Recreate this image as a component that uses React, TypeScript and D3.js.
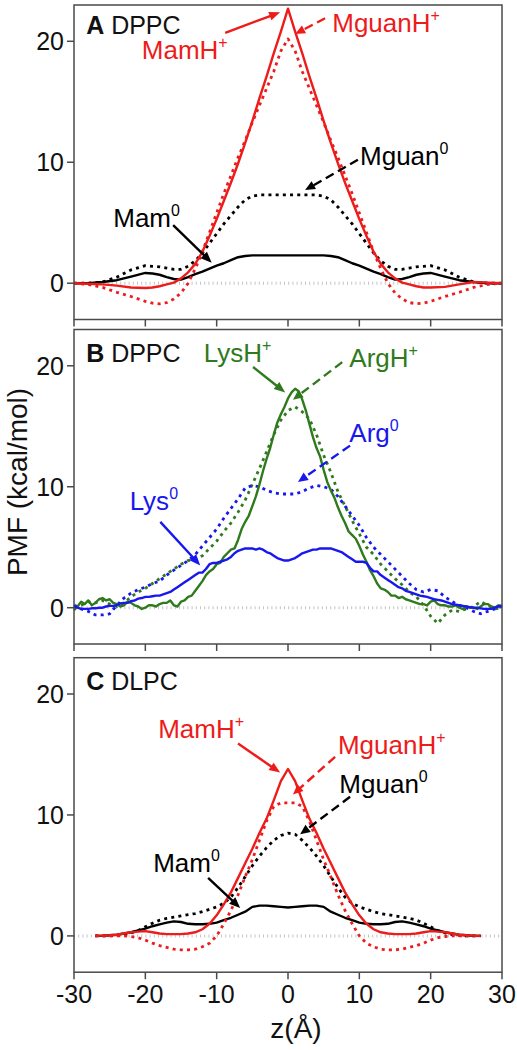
import React from "react";
import * as d3 from "d3";

const FONT = "'Liberation Sans', Arial, Helvetica, sans-serif";
const RED = "#ee1b1b";
const GREEN = "#2f7a1d";
const BLUE = "#1717ee";
const BLACK = "#000000";

// ---------------- Panel A (DPPC) ----------------
const zA = [-30, -28, -26, -24, -22, -20, -19, -18, -17, -16, -15, -14, -13, -12, -11, -10, -9, -8, -7, -6, -5, -4, -3, -2, -1, 0,
  1, 2, 3, 4, 5, 6, 7, 8, 9, 10, 11, 12, 13, 14, 15, 16, 17, 18, 19, 20, 22, 24, 26, 28, 30];
const A_MamH = [0, -0.05, -0.1, -0.2, -0.35, -0.4, -0.35, -0.25, -0.1, 0.05, 0.4, 0.9, 1.6, 2.6, 3.9, 5.3, 6.8, 8.3, 9.9, 11.6, 13.4, 15.3, 17.1, 19.0, 20.8, 22.7,
  20.8, 19.0, 17.1, 15.3, 13.4, 11.6, 9.9, 8.3, 6.8, 5.3, 3.9, 2.6, 1.6, 0.9, 0.4, 0.05, -0.1, -0.25, -0.35, -0.35, -0.3, -0.1, 0.1, 0.05, 0];
const A_MguanH = [0, -0.1, -0.35, -0.75, -1.1, -1.5, -1.65, -1.7, -1.6, -1.3, -0.8, 0.0, 1.2, 2.6, 4.2, 5.8, 7.4, 8.9, 10.4, 11.8, 13.3, 14.7, 16.1, 17.5, 19.2, 20.2,
  19.2, 17.5, 16.1, 14.7, 13.3, 11.8, 10.4, 8.9, 7.4, 5.8, 4.2, 2.6, 1.2, 0.0, -0.8, -1.3, -1.6, -1.7, -1.65, -1.5, -1.1, -0.75, -0.35, -0.1, 0];
const A_Mguan0 = [0, 0.0, 0.1, 0.5, 1.1, 1.45, 1.4, 1.35, 1.25, 1.15, 1.15, 1.4, 1.85, 2.5, 3.3, 4.1, 4.9, 5.6, 6.3, 6.9, 7.2, 7.3, 7.3, 7.3, 7.3, 7.3,
  7.3, 7.3, 7.3, 7.3, 7.2, 6.9, 6.3, 5.6, 4.9, 4.1, 3.3, 2.5, 1.85, 1.4, 1.15, 1.15, 1.25, 1.35, 1.4, 1.45, 1.1, 0.5, 0.1, 0.0, 0];
const A_Mam0 = [0, 0.0, 0.1, 0.25, 0.55, 0.85, 0.8, 0.7, 0.5, 0.35, 0.3, 0.5, 0.75, 0.95, 1.2, 1.45, 1.65, 1.9, 2.15, 2.25, 2.3, 2.3, 2.3, 2.3, 2.3, 2.3,
  2.3, 2.3, 2.3, 2.3, 2.3, 2.25, 2.15, 1.9, 1.65, 1.45, 1.2, 0.95, 0.75, 0.5, 0.3, 0.35, 0.5, 0.7, 0.8, 0.85, 0.55, 0.25, 0.1, 0.0, 0];

// ---------------- Panel B (DPPC, amino acids) ----------------
const zB = [-30, -29, -28, -27, -26, -25, -24, -23, -22, -21, -20, -19, -18, -17, -16, -15, -14, -13, -12, -11, -10, -9, -8, -7, -6, -5, -4, -3, -2, -1, 0,
  1, 2, 3, 4, 5, 6, 7, 8, 9, 10, 11, 12, 13, 14, 15, 16, 17, 18, 19, 20, 21, 22, 23, 24, 25, 26, 27, 28, 29, 30];
// half-Ångström grid for the noisy solid curves
const zBfine = d3.range(-30, 30.25, 0.5);
const B_LysH = [
  -0.2, 0.1, 0.5, 0.3, 0.6, 0.2, 0.4, 0.7, 0.8, 0.6,
  0.7, 0.4, 0.3, 0.1, 0.2, 0.5, 0.4, 0.2, 0.1, -0.1,
  0.0, 0.2, 0.2, 0.1, 0.3, 0.4, 0.4, 0.6, 0.2, 0.1,
  0.5, 0.6, 0.9, 1.0, 1.4, 1.8, 2.2, 2.7, 3.0, 3.2,
  3.6, 3.7, 4.2, 4.5, 4.8, 4.9, 5.6, 6.5, 7.1, 7.6,
  8.4, 9.2, 10.2, 11.3, 12.3, 13.2, 14.3, 15.3, 16.0, 16.6,
  17.3,
  17.8, 18.1, 17.9, 17.2, 16.3, 15.2, 14.1, 13.2, 12.5, 11.4,
  10.4, 9.7, 9.1, 8.3, 7.6, 7.0, 6.3, 6.0, 5.7, 5.1,
  4.4, 3.8, 3.1, 2.6, 2.0, 1.6, 1.5, 1.3, 1.0, 1.0,
  0.8, 0.9, 0.7, 0.6, 0.5, 0.4, 0.3, 0.3, 0.2, 0.5,
  0.6, 0.3, 0.2, 0.2, 0.1, 0.1, 0.2, 0.0, -0.1, 0.1,
  0.0, 0.0, -0.1, 0.1, 0.3, 0.3, 0.1, 0.0, 0.2, 0.1];
const B_Lys0 = [
  0.1, 0.0, -0.1, -0.1, -0.1, -0.05, -0.05, 0.0, 0.0, 0.1,
  0.15, 0.15, 0.2, 0.35, 0.4, 0.4, 0.55, 0.6, 0.75, 0.8,
  0.9, 0.9, 0.95, 1.0, 1.0, 1.1, 1.2, 1.3, 1.5, 1.7,
  1.9, 2.1, 2.3, 2.5, 2.7, 2.9, 2.9, 3.2, 3.6, 3.7,
  3.7, 3.8, 3.9, 4.0, 4.2, 4.5, 4.7, 4.8, 4.9, 4.9,
  4.9, 4.8, 4.9, 4.8, 4.6, 4.5, 4.3, 4.1, 4.0, 3.9,
  3.9,
  4.0, 4.1, 4.3, 4.5, 4.6, 4.7, 4.8, 4.8, 4.9, 4.9,
  4.9, 4.9, 4.8, 4.7, 4.6, 4.4, 4.2, 4.0, 3.8, 3.8,
  3.8, 3.7, 3.3, 3.0, 3.0, 2.7, 2.5, 2.3, 2.1, 1.9,
  1.7, 1.6, 1.4, 1.3, 1.2, 1.1, 1.0, 0.95, 0.9, 0.8,
  0.7, 0.65, 0.6, 0.5, 0.4, 0.3, 0.25, 0.2, 0.15, 0.1,
  0.05, 0.0, 0.0, -0.05, -0.1, -0.1, -0.1, 0.0, 0.1, 0.2];
const B_ArgH = [0.1, 0.2, 0.5, 0.4, 0.6, 0.3, 0.1, 0.4, 0.9, 1.3, 1.6, 2.0, 2.4, 2.8, 3.2, 3.6, 3.9, 4.0, 4.3, 4.9, 5.5, 6.3, 7.0, 7.9, 8.9, 10.2, 11.5, 12.9, 14.3, 15.5, 16.3,
  16.6, 16.2, 15.6, 14.3, 12.6, 11.2, 9.6, 8.4, 7.2, 6.1, 5.0, 4.4, 3.6, 3.0, 2.4, 1.9, 1.3, 0.9, 0.2, -0.7, -1.3, -0.6, -0.2, -0.3, -0.1, 0.1, 0.5, 0.2, -0.1, 0.0];
const B_Arg0 = [0.2, -0.1, -0.3, -0.6, -0.6, -0.5, 0.2, 0.8, 1.2, 1.5, 1.7, 2.0, 2.2, 2.7, 3.1, 3.5, 3.9, 4.4, 5.1, 5.8, 6.5, 7.4, 8.2, 9.0, 9.9, 10.1, 10.0, 9.7, 9.5, 9.4, 9.4,
  9.4, 9.6, 9.9, 10.1, 10.0, 9.8, 9.2, 8.4, 7.6, 6.8, 5.8, 5.0, 4.4, 3.8, 3.2, 2.6, 2.0, 1.5, 1.3, 1.5, 1.4, 0.9, 0.5, 0.2, 0.0, -0.3, -0.5, -0.3, -0.1, 0.1];

// ---------------- Panel C (DLPC) ----------------
const zC = [-27, -26, -25, -24, -23, -22, -21, -20, -19, -18, -17, -16, -15, -14, -13, -12, -11, -10, -9, -8, -7, -6, -5, -4, -3, -2, -1, 0,
  1, 2, 3, 4, 5, 6, 7, 8, 9, 10, 11, 12, 13, 14, 15, 16, 17, 18, 19, 20, 21, 22, 23, 24, 25, 26, 27];
const C_MamH = [0, 0.02, 0.05, 0.1, 0.2, 0.3, 0.35, 0.4, 0.3, 0.2, 0.15, 0.15, 0.15, 0.2, 0.3, 0.55, 1.0, 1.7, 2.6, 3.6, 4.8, 6.0, 7.2, 8.5, 9.7, 11.2, 12.8, 13.8,
  12.8, 11.2, 9.7, 8.5, 7.2, 6.0, 4.8, 3.6, 2.6, 1.7, 1.0, 0.55, 0.3, 0.2, 0.15, 0.15, 0.15, 0.2, 0.3, 0.4, 0.35, 0.3, 0.2, 0.1, 0.05, 0.02, 0];
const C_MguanH = [0, 0, 0, 0, 0.0, -0.05, -0.15, -0.35, -0.6, -0.8, -0.95, -1.1, -1.15, -1.15, -1.1, -0.9, -0.6, 0.0, 1.0, 2.1, 3.4, 4.9, 6.3, 7.9, 9.5, 10.7, 11.0, 11.0,
  11.0, 10.7, 9.5, 7.9, 6.3, 4.9, 3.4, 2.1, 1.0, 0.0, -0.6, -0.9, -1.1, -1.15, -1.15, -1.1, -0.95, -0.8, -0.6, -0.35, -0.15, -0.05, 0.0, 0, 0, 0, 0];
const C_Mguan0 = [0, 0, 0.0, 0.05, 0.1, 0.25, 0.45, 0.75, 1.05, 1.3, 1.45, 1.55, 1.65, 1.75, 1.85, 2.0, 2.2, 2.4, 2.7, 3.2, 4.0, 4.9, 5.8, 6.6, 7.3, 7.9, 8.3, 8.5,
  8.4, 7.9, 7.3, 6.6, 5.8, 4.9, 4.0, 3.2, 2.7, 2.4, 2.2, 2.0, 1.85, 1.75, 1.65, 1.55, 1.45, 1.3, 1.05, 0.75, 0.45, 0.25, 0.1, 0.05, 0.0, 0, 0];
const C_Mam0 = [0, 0.0, 0.05, 0.1, 0.2, 0.3, 0.45, 0.6, 0.8, 0.95, 1.1, 1.2, 1.15, 1.0, 0.97, 0.97, 1.0, 1.1, 1.3, 1.5, 1.75, 2.0, 2.4, 2.5, 2.5, 2.45, 2.4, 2.35,
  2.4, 2.45, 2.5, 2.5, 2.4, 2.0, 1.75, 1.5, 1.3, 1.1, 1.0, 0.97, 0.97, 1.0, 1.15, 1.2, 1.1, 0.95, 0.8, 0.6, 0.45, 0.3, 0.2, 0.1, 0.05, 0.0, 0];

const xTicks = [-30, -20, -10, 0, 10, 20, 30];
const yTicks = [0, 10, 20];

type Series = { z: number[]; v: number[]; color: string; dotted: boolean };
type Ann = {
  text: string; sup: string; color: string; tx: number; ty: number;
  from: [number, number]; to: [number, number]; dashed: boolean;
};
type PanelDef = { letter: string; lipid: string; titleY: number; series: Series[]; anns: Ann[] };

const panels: PanelDef[] = [
  {
    letter: "A", lipid: "DPPC", titleY: 20.6,
    series: [
      { z: zA, v: A_Mam0, color: BLACK, dotted: false },
      { z: zA, v: A_Mguan0, color: BLACK, dotted: true },
      { z: zA, v: A_MguanH, color: RED, dotted: true },
      { z: zA, v: A_MamH, color: RED, dotted: false },
    ],
    anns: [
      { text: "MamH", sup: "+", color: RED, tx: -20.5, ty: 18.5, from: [-8.8, 20.7], to: [-1.1, 22.4], dashed: false },
      { text: "MguanH", sup: "+", color: RED, tx: 6.2, ty: 20.8, from: [5.2, 21.9], to: [1.0, 20.6], dashed: true },
      { text: "Mguan", sup: "0", color: BLACK, tx: 10.1, ty: 9.8, from: [9.8, 10.2], to: [2.4, 7.7], dashed: true },
      { text: "Mam", sup: "0", color: BLACK, tx: -24.5, ty: 4.65, from: [-16.1, 4.8], to: [-10.7, 1.7], dashed: false },
    ],
  },
  {
    letter: "B", lipid: "DPPC", titleY: 20.3,
    series: [
      { z: zB, v: B_ArgH, color: GREEN, dotted: true },
      { z: zB, v: B_Arg0, color: BLUE, dotted: true },
      { z: zBfine, v: B_LysH, color: GREEN, dotted: false },
      { z: zBfine, v: B_Lys0, color: BLUE, dotted: false },
    ],
    anns: [
      { text: "LysH", sup: "+", color: GREEN, tx: -11.8, ty: 20.3, from: [-4.9, 19.9], to: [-0.4, 17.8], dashed: false },
      { text: "ArgH", sup: "+", color: GREEN, tx: 8.6, ty: 19.9, from: [7.6, 20.3], to: [0.7, 17.2], dashed: true },
      { text: "Arg", sup: "0", color: BLUE, tx: 8.6, ty: 13.7, from: [8.7, 13.4], to: [1.4, 10.4], dashed: true },
      { text: "Lys", sup: "0", color: BLUE, tx: -22.2, ty: 8.1, from: [-17.9, 7.1], to: [-12.3, 3.5], dashed: false },
    ],
  },
  {
    letter: "C", lipid: "DLPC", titleY: 20.3,
    series: [
      { z: zC, v: C_Mam0, color: BLACK, dotted: false },
      { z: zC, v: C_Mguan0, color: BLACK, dotted: true },
      { z: zC, v: C_MguanH, color: RED, dotted: true },
      { z: zC, v: C_MamH, color: RED, dotted: false },
    ],
    anns: [
      { text: "MamH", sup: "+", color: RED, tx: -18.2, ty: 16.4, from: [-7.0, 15.9], to: [-1.1, 13.5], dashed: false },
      { text: "MguanH", sup: "+", color: RED, tx: 7.0, ty: 15.0, from: [6.6, 14.8], to: [0.7, 11.7], dashed: true },
      { text: "Mguan", sup: "0", color: BLACK, tx: 7.2, ty: 11.8, from: [8.7, 11.5], to: [1.7, 8.4], dashed: true },
      { text: "Mam", sup: "0", color: BLACK, tx: -18.9, ty: 5.3, from: [-11.2, 4.8], to: [-6.7, 2.3], dashed: false },
    ],
  },
];

const W = 517;
const H = 1050;
const X0 = 74;
const X1 = 502;
const PANEL_TOPS = [5, 329.5, 657.7];
const PANEL_H = 314.5;

const x = d3.scaleLinear().domain([-30, 30]).range([X0, X1]);

function Arrow({ p0, p1, color, dashed }: { p0: [number, number]; p1: [number, number]; color: string; dashed: boolean }) {
  const dx = p1[0] - p0[0];
  const dy = p1[1] - p0[1];
  const len = Math.hypot(dx, dy);
  const ux = dx / len, uy = dy / len;
  const hl = dashed ? 10 : 11, hw = 4.5;
  const bx = p1[0] - ux * hl, by = p1[1] - uy * hl;
  const pts = [
    [p1[0], p1[1]],
    [bx - uy * hw, by + ux * hw],
    [bx + uy * hw, by - ux * hw],
  ].map((p) => p.join(",")).join(" ");
  return (
    <g>
      <line x1={p0[0]} y1={p0[1]} x2={bx + ux * 1} y2={by + uy * 1} stroke={color} strokeWidth={2.4}
        strokeDasharray={dashed ? "9 5" : undefined} />
      <polygon points={pts} fill={color} />
    </g>
  );
}

function Panel({ def, top, showXLabels }: { def: PanelDef; top: number; showXLabels: boolean }) {
  const y = d3.scaleLinear().domain([-3, 23]).range([top + PANEL_H, top]);
  const bottom = top + PANEL_H;
  return (
    <g>
      {/* zero reference */}
      <line x1={x(-30)} x2={x(30)} y1={y(0)} y2={y(0)} stroke="#c4c4c4" strokeWidth={3} strokeDasharray="1 3.2" />
      {def.series.map((s, i) => {
        const line = d3.line<number>().x((_, j) => x(s.z[j])).y((d) => y(d)).curve(d3.curveLinear);
        return (
          <path key={i} d={line(s.v) || ""} fill="none" stroke={s.color}
            strokeWidth={s.dotted ? 2.8 : 2.4}
            strokeDasharray={s.dotted ? "3 4.2" : undefined}
            strokeLinejoin="round" />
        );
      })}
      {/* frame */}
      <rect x={X0} y={top} width={X1 - X0} height={PANEL_H} fill="none" stroke="#4a4a4a" strokeWidth={1.5} />
      {/* x ticks */}
      {xTicks.map((t) => (
        <line key={"xt" + t} x1={x(t)} x2={x(t)} y1={bottom} y2={bottom + 7} stroke="#4a4a4a" strokeWidth={1.5} />
      ))}
      {showXLabels && xTicks.map((t) => (
        <text key={"xl" + t} x={x(t)} y={bottom + 31} textAnchor="middle" fontFamily={FONT} fontSize={25} fill="#111">
          {t}
        </text>
      ))}
      {/* y ticks */}
      {yTicks.map((t) => (
        <g key={"yt" + t}>
          <line x1={X0 - 7} x2={X0} y1={y(t)} y2={y(t)} stroke="#4a4a4a" strokeWidth={1.5} />
          <text x={X0 - 10} y={y(t) + 9} textAnchor="end" fontFamily={FONT} fontSize={25} fill="#111">{t}</text>
        </g>
      ))}
      {/* panel title */}
      <text x={x(-28.3)} y={y(def.titleY)} fontFamily={FONT} fontSize={25} fill="#111">
        <tspan fontWeight="bold">{def.letter}</tspan>
        <tspan> {def.lipid}</tspan>
      </text>
      {def.anns.map((a, i) => (
        <g key={"a" + i}>
          <text x={x(a.tx)} y={y(a.ty)} fontFamily={FONT} fontSize={26} fill={a.color}>
            {a.text}
            <tspan dy={-11} fontSize={16}>{a.sup}</tspan>
          </text>
          <Arrow p0={[x(a.from[0]), y(a.from[1])]} p1={[x(a.to[0]), y(a.to[1])]} color={a.color} dashed={a.dashed} />
        </g>
      ))}
    </g>
  );
}

export default function App() {
  return (
    <svg width={W} height={H} viewBox={`0 0 ${W} ${H}`} style={{ display: "block", position: "absolute", left: 0, top: 0, background: "#fff" }}>
      <rect x={0} y={0} width={W} height={H} fill="#fff" />
      {panels.map((p, i) => (
        <Panel key={p.letter} def={p} top={PANEL_TOPS[i]} showXLabels={i === panels.length - 1} />
      ))}
      <text transform={`translate(27,482) rotate(-90)`} textAnchor="middle" fontFamily={FONT} fontSize={28} fill="#111">
        PMF (kcal/mol)
      </text>
      <text x={296} y={1038} textAnchor="middle" fontFamily={FONT} fontSize={28} fill="#111">
        z(Å)
      </text>
    </svg>
  );
}
